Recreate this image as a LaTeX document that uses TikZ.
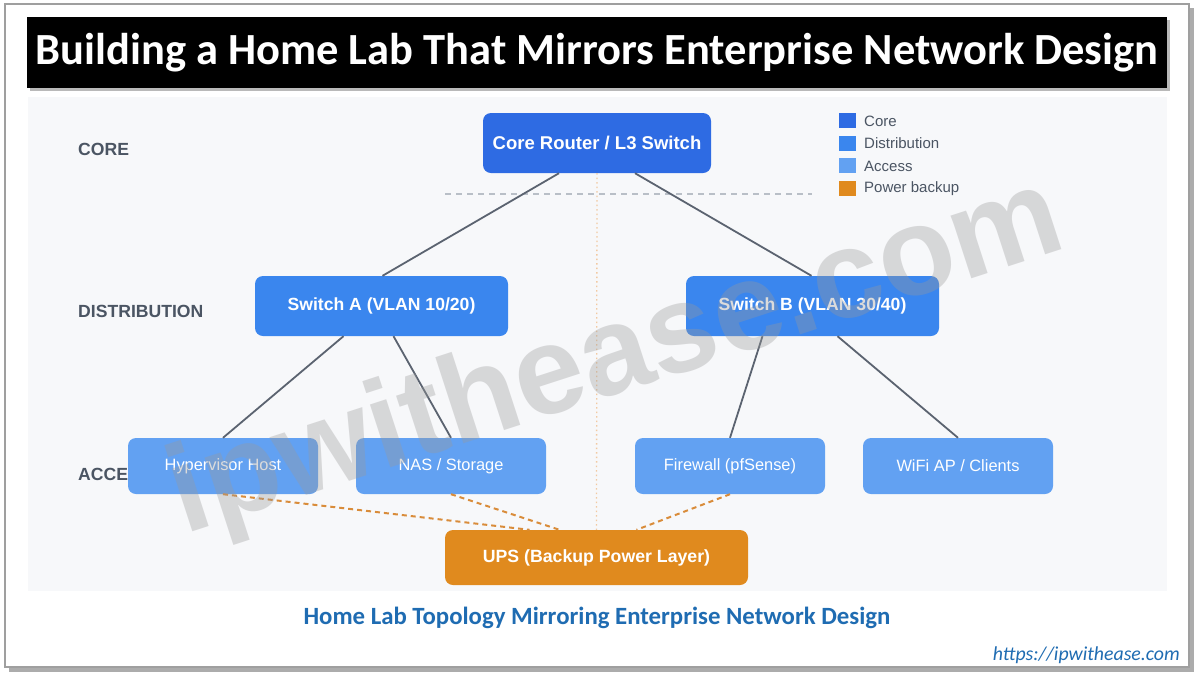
\documentclass[tikz,border=0pt]{standalone}
\usepackage{fontspec}
\setmainfont{Liberation Sans}
\newfontfamily\calfont{Carlito}
\usetikzlibrary{calc}
\definecolor{corec}{HTML}{2E6BE3}
\definecolor{distc}{HTML}{3A86EE}
\definecolor{accc}{HTML}{62A1F2}
\definecolor{upsc}{HTML}{E08A1E}
\definecolor{lblc}{HTML}{4B5563}
\definecolor{linec}{HTML}{5B6370}
\definecolor{panelc}{HTML}{F7F8FA}
\definecolor{capc}{HTML}{1F6CB2}
\definecolor{dashc}{HTML}{D98C3A}
\definecolor{peach}{HTML}{F2C9A2}
\definecolor{hdash}{HTML}{B9BFC7}
\definecolor{wmc}{HTML}{9A9A9A}
\begin{document}
\begin{tikzpicture}[x=1pt,y=-1pt,
  box/.style={rectangle, rounded corners=8pt, text=white, inner sep=0pt, align=center},
  corebox/.style={box, fill=corec, minimum width=228pt, minimum height=60pt, font=\fontsize{18.5}{21}\selectfont\bfseries},
  distbox/.style={box, fill=distc, minimum width=253pt, minimum height=60pt, font=\fontsize{17.6}{20}\selectfont\bfseries},
  accbox/.style={box, fill=accc, minimum width=190pt, minimum height=56pt, font=\fontsize{16.4}{19}\selectfont},
  upsbox/.style={box, fill=upsc, minimum width=303pt, minimum height=55pt, font=\fontsize{17.7}{20}\selectfont\bfseries},
  layer/.style={anchor=west, text=lblc, inner sep=0pt, font=\fontsize{17.6}{20}\selectfont\bfseries},
  link/.style={draw=linec, line width=1.8pt},
  pwr/.style={draw=dashc, line width=2pt, dash pattern=on 5pt off 4pt},
  legsq/.style={rectangle, minimum width=17pt, minimum height=15pt, inner sep=0pt},
  legtx/.style={anchor=west, inner sep=0pt, text=lblc, font=\fontsize{15}{17}\selectfont},
]
\useasboundingbox (0,0) rectangle (1200,681);
\fill[white] (0,0) rectangle (1200,681);
% outer frame with shadow
\fill[gray!65] (9,8) rectangle (1194,672);
\draw[fill=white, draw=gray!75, line width=1.8pt] (5,4) rectangle (1189,667);
% title bar
\fill[gray!55] (30,20) rectangle (1170,91);
\fill[black] (27,17) rectangle (1167,88);
\node[text=white, inner sep=0pt, font=\calfont\bfseries\fontsize{44.5}{50}\selectfont] (title) at (597,53) {Building a Home Lab That Mirrors Enterprise Network Design};
% diagram panel
\fill[panelc] (28,97) rectangle (1167,591);
% layer labels
\node[layer] (lcore) at (78,149) {CORE};
\node[layer] (ldist) at (78,311) {DISTRIBUTION};
\node[layer] (lacc) at (78,474) {ACCESS};
% helper lines
\draw[hdash, line width=1.5pt, dash pattern=on 6pt off 5pt] (445,194) -- (812,194);
% nodes
\node[corebox] (core) at (597,143) {Core Router / L3 Switch};
\node[distbox] (swa) at (381.5,306) {Switch A (VLAN 10/20)};
\node[distbox] (swb) at (812.5,306) {Switch B (VLAN 30/40)};
\node[accbox] (hyp) at (223,466) {Hypervisor Host};
\node[accbox] (nas) at (451,466) {NAS / Storage};
\node[accbox] (fw) at (730,466) {Firewall (pfSense)};
\node[accbox] (wifi) at (958,466) {WiFi AP / Clients};
\node[upsbox] (ups) at (596.5,557.5) {UPS (Backup Power Layer)};
% vertical dotted divider
\draw[peach, line width=1.3pt, dash pattern=on 1.5pt off 3pt] (core.south) -- (ups.north);
% links
\draw[link] ([xshift=-38pt]core.south) -- ([xshift=1pt]swa.north);
\draw[link] ([xshift=38pt]core.south) -- ([xshift=-1pt]swb.north);
\draw[link] ([xshift=-38pt]swa.south) -- (hyp.north);
\draw[link] ([xshift=12pt]swa.south) -- (nas.north);
\draw[link] ([xshift=-50pt]swb.south) -- (fw.north);
\draw[link] ([xshift=25pt]swb.south) -- (wifi.north);
% power links
\draw[pwr] (hyp.south) -- ([xshift=-67pt]ups.north);
\draw[pwr] (nas.south) -- ([xshift=-37pt]ups.north);
\draw[pwr] (fw.south) -- ([xshift=40pt]ups.north);
% legend
\node[legsq, fill=corec] (sq1) at (847,120.5) {};
\node[legsq, fill=distc] (sq2) at (847,143) {};
\node[legsq, fill=accc] (sq3) at (847,165.5) {};
\node[legsq, fill=upsc] (sq4) at (847,188) {};
\node[legtx] (t1) at (864,121) {Core};
\node[legtx] (t2) at (864,143.5) {Distribution};
\node[legtx] (t3) at (864,166) {Access};
\node[legtx] (t4) at (864,188.5) {Power backup};
% caption
\node[text=capc, inner sep=0pt, font=\calfont\bfseries\fontsize{24.8}{28}\selectfont] (cap) at (597,618) {Home Lab Topology Mirroring Enterprise Network Design};
\node[text=capc, inner sep=0pt, anchor=east, font=\calfont\itshape\fontsize{19.8}{23}\selectfont] (url) at (1180,655) {https://ipwithease.com};
% watermark
\node[text=wmc, opacity=0.35, rotate=18, inner sep=0pt, font=\fontsize{125}{130}\selectfont\bfseries] (wm) at (617,360) {ipwithease.com};
\end{tikzpicture}
\end{document}
